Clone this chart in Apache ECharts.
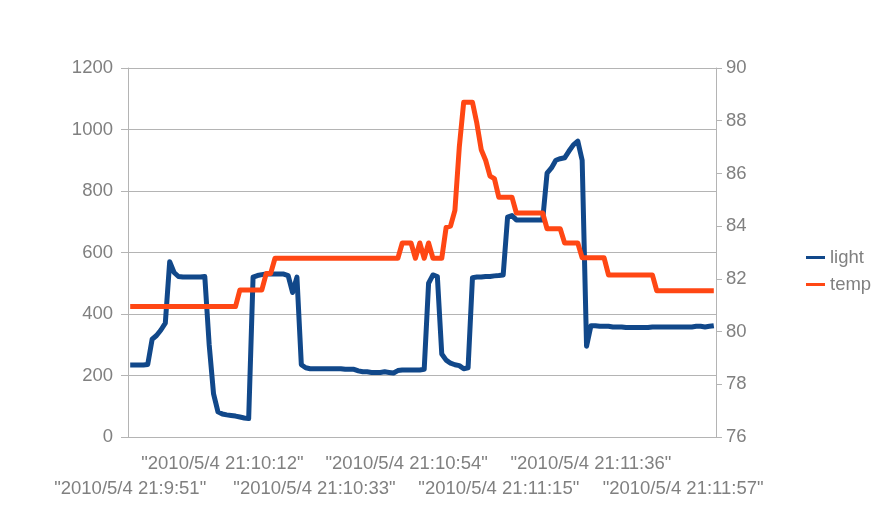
<!DOCTYPE html>
<html>
<head>
<meta charset="utf-8">
<script src="https://cdn.jsdelivr.net/npm/echarts@6/dist/echarts.min.js"></script>
<style>html,body{margin:0;padding:0;background:#fff}#c{width:873px;height:524px}</style>
</head>
<body>
<div id="c"></div>
<script>
// time stamps: one per second, starting 2010/5/4 21:9:51
var startMin = 9, startSec = 51, count = 134;
var categories = [];
for (var k = 0; k < count; k++) {
  var t = startMin * 60 + startSec + k;
  categories.push('"2010/5/4 21:' + Math.floor(t / 60) + ':' + ('0' + (t % 60)).slice(-2) + '"');
}
var light = [
  234,234,234,234,236,318,330,348,370,570,
  535,522,520,520,520,520,520,522,300,140,
  82,75,72,70,68,65,62,60,520,525,
  528,530,530,530,530,530,525,470,520,235,
  225,222,222,222,222,222,222,222,222,220,
  220,220,215,212,212,210,210,210,212,210,
  208,216,218,218,218,218,218,220,500,527,
  522,270,250,240,235,232,222,225,518,520,
  520,522,522,524,525,527,715,720,706,706,
  706,706,706,706,706,858,875,900,905,908,
  930,950,962,900,295,362,362,360,360,360,
  358,358,358,356,356,356,356,356,356,358,
  358,358,358,358,358,358,358,358,358,360,
  360,358,360,362
];
var temp = [
  80.95,80.95,80.95,80.95,80.95,80.95,80.95,80.95,80.95,80.95,
  80.95,80.95,80.95,80.95,80.95,80.95,80.95,80.95,80.95,80.95,
  80.95,80.95,80.95,80.95,80.95,81.58,81.58,81.58,81.58,81.58,
  81.58,82.2,82.2,82.78,82.78,82.78,82.78,82.78,82.78,82.78,
  82.78,82.78,82.78,82.78,82.78,82.78,82.78,82.78,82.78,82.78,
  82.78,82.78,82.78,82.78,82.78,82.78,82.78,82.78,82.78,82.78,
  82.78,82.78,83.36,83.36,83.36,82.78,83.36,82.78,83.36,82.78,
  82.78,82.78,83.95,84.0,84.6,87.0,88.7,88.7,88.7,87.9,
  86.9,86.5,85.9,85.8,85.1,85.1,85.1,85.1,84.5,84.5,
  84.5,84.5,84.5,84.5,84.5,83.9,83.9,83.9,83.9,83.36,
  83.36,83.36,83.36,82.8,82.8,82.8,82.8,82.8,82.8,82.15,
  82.15,82.15,82.15,82.15,82.15,82.15,82.15,82.15,82.15,82.15,
  81.55,81.55,81.55,81.55,81.55,81.55,81.55,81.55,81.55,81.55,
  81.55,81.55,81.55,81.55
];
var leftTicks = {min: 0, max: 1200, interval: 200};
var rightTicks = {min: 76, max: 90, interval: 2};
var labelStep = 21;

var gray = '#808080';
var lineGray = '#b4b4b4';
var font = 'Liberation Sans, Arial, sans-serif';
var fs = 18.5;
var chart = echarts.init(document.getElementById('c'));
chart.setOption({
  animation: false,
  backgroundColor: '#fff',
  grid: {left: 128, right: 157, top: 68, bottom: 87},
  legend: {
    orient: 'vertical', left: 806, top: 248, padding: 0, itemWidth: 19, itemHeight: 3, itemGap: 8,
    icon: 'rect',
    textStyle: {color: gray, fontSize: fs, fontFamily: font},
    data: ['light', 'temp']
  },
  xAxis: [{
    type: 'category', data: categories, boundaryGap: true, position: 'bottom',
    axisLine: {lineStyle: {color: lineGray, width: 1}},
    axisTick: {interval: 0, length: 6, lineStyle: {color: lineGray}},
    axisLabel: {
      interval: function (i) { return i % (2 * labelStep) === labelStep; },
      showMinLabel: true, showMaxLabel: true, hideOverlap: false,
      color: gray, fontSize: fs, fontFamily: font, lineHeight: 25, margin: 14
    },
    splitLine: {show: false}
  }, {
    type: 'category', data: categories, boundaryGap: true, position: 'bottom', offset: 25,
    axisLine: {show: false},
    axisTick: {show: false},
    axisLabel: {
      interval: function (i) { return i % (2 * labelStep) === 0; },
      showMinLabel: true, showMaxLabel: true, hideOverlap: false,
      color: gray, fontSize: fs, fontFamily: font, lineHeight: 25, margin: 14
    },
    splitLine: {show: false}
  }],
  yAxis: [{
    type: 'value', min: leftTicks.min, max: leftTicks.max, interval: leftTicks.interval,
    axisLine: {show: true, lineStyle: {color: lineGray}},
    axisTick: {show: true, length: 7, lineStyle: {color: lineGray}},
    axisLabel: {color: gray, fontSize: fs, fontFamily: font, margin: 15, formatter: function (v) { return String(v); }},
    splitLine: {show: true, lineStyle: {color: lineGray, width: 1}}
  }, {
    type: 'value', min: rightTicks.min, max: rightTicks.max, interval: rightTicks.interval,
    position: 'right',
    axisLine: {show: true, lineStyle: {color: lineGray}},
    axisTick: {show: true, length: 6, lineStyle: {color: lineGray}},
    axisLabel: {color: gray, fontSize: fs, fontFamily: font, margin: 10},
    splitLine: {show: false}
  }],
  series: [{
    name: 'light', type: 'line', xAxisIndex: 0, yAxisIndex: 0, data: light,
    showSymbol: false, symbol: 'none',
    itemStyle: {color: '#11488a'},
    lineStyle: {color: '#11488a', width: 5, join: 'round'}
  }, {
    name: 'temp', type: 'line', xAxisIndex: 0, yAxisIndex: 1, data: temp,
    showSymbol: false, symbol: 'none',
    itemStyle: {color: '#ff4714'},
    lineStyle: {color: '#ff4714', width: 5, join: 'round'}
  }]
});
</script>
</body>
</html>
